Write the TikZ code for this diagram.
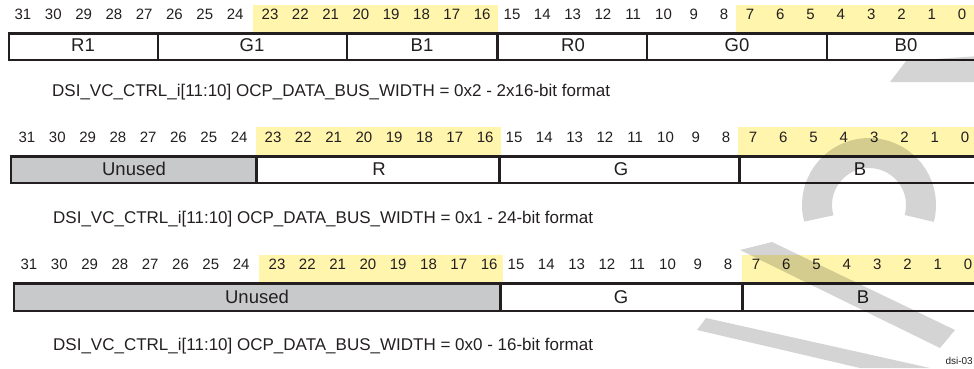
\documentclass[tikz,border=0pt]{standalone}
\usepackage{fontspec}
\setmainfont{Liberation Sans}
\definecolor{hl}{RGB}{255,245,172}
\definecolor{unusedgray}{RGB}{200,201,203}
\definecolor{ink}{RGB}{35,31,32}
\tikzset{
  num/.style={font=\fontsize{15}{15}\selectfont, text=ink, inner sep=0pt},
  fieldlabel/.style={font=\fontsize{18.5}{18.5}\selectfont, text=ink, inner sep=0pt},
  caption/.style={font=\fontsize{17}{17}\selectfont, text=ink, inner sep=0pt, anchor=west},
  topline/.style={draw=ink, line width=3pt},
  boxline/.style={draw=ink, line width=2pt},
  thindiv/.style={draw=ink, line width=1.6pt},
  thickdiv/.style={draw=ink, line width=3pt},
  hlband/.style={fill=hl, draw=none},
  unusedfill/.style={fill=unusedgray, draw=none},
  wm/.style={fill=black, fill opacity=0.17, draw=none},
  wmstroke/.style={draw=black, draw opacity=0.17, line width=30pt},
}
\begin{document}
\begin{tikzpicture}[x=1pt,y=-1pt]
\useasboundingbox (0,0) rectangle (974,368);
\clip (0,0) rectangle (974,368);

% ---------------- Row 1 ----------------
\fill[hlband] (253,5) rectangle (498,32);
\fill[hlband] (736,5) rectangle (980,32);
\foreach \gs [count=\g from 0] in {23,270,512,750} {
  \foreach \i in {0,...,7} {
    \pgfmathtruncatemacro\bit{31-8*\g-\i}
    \node[num] (a\bit) at (\gs+\i*30.3,14) {\bit};
  }
}
\fill[white] (8,33) rectangle (980,60);
\draw[thindiv] (158,33) -- (158,60);
\draw[thindiv] (347,33) -- (347,60);
\draw[thickdiv] (497,33) -- (497,60);
\draw[thindiv] (647,33) -- (647,60);
\draw[thindiv] (827,33) -- (827,60);
\draw[boxline] (9,33) -- (9,60);
\draw[boxline] (8,60) -- (980,60);
\draw[topline] (7.5,33) -- (980,33);
\node[fieldlabel] (r1) at (83,45) {R1};
\node[fieldlabel] (g1) at (252,45) {G1};
\node[fieldlabel] (b1) at (422,45) {B1};
\node[fieldlabel] (r0) at (573,45) {R0};
\node[fieldlabel] (g0) at (737,45) {G0};
\node[fieldlabel] (b0) at (906,45) {B0};
\node[caption] (c1) at (52,92) {DSI\_VC\_CTRL\_i[11:10] OCP\_DATA\_BUS\_WIDTH = 0x2 - 2x16-bit format};

% ---------------- Row 2 ----------------
\fill[hlband] (256,127) rectangle (501,155);
\fill[hlband] (738,127) rectangle (980,155);
\foreach \gs [count=\g from 0] in {27,273,514,753} {
  \foreach \i in {0,...,7} {
    \pgfmathtruncatemacro\bit{31-8*\g-\i}
    \node[num] (b\bit) at (\gs+\i*30.3,137) {\bit};
  }
}
\fill[white] (10,156) rectangle (980,183);
\fill[unusedfill] (10,156) rectangle (256,183);
\draw[thickdiv] (256,156) -- (256,183);
\draw[thickdiv] (499,156) -- (499,183);
\draw[thickdiv] (739,156) -- (739,183);
\draw[boxline] (11,156) -- (11,183);
\draw[boxline] (10,183) -- (980,183);
\draw[topline] (9.5,156) -- (980,156);
\node[fieldlabel] (u2) at (134,169) {Unused};
\node[fieldlabel] (r2) at (379,169) {R};
\node[fieldlabel] (g2) at (621,169) {G};
\node[fieldlabel] (bb2) at (860,169) {B};
\node[caption] (c2) at (53,219) {DSI\_VC\_CTRL\_i[11:10] OCP\_DATA\_BUS\_WIDTH = 0x1 - 24-bit format};

% ---------------- Row 3 ----------------
\fill[hlband] (259,255) rectangle (503,282);
\fill[hlband] (742,255) rectangle (980,282);
\foreach \gs [count=\g from 0] in {29,277,516,756} {
  \foreach \i in {0,...,7} {
    \pgfmathtruncatemacro\bit{31-8*\g-\i}
    \node[num] (c\bit) at (\gs+\i*30.3,264) {\bit};
  }
}
\fill[white] (13,283) rectangle (980,311);
\fill[unusedfill] (13,283) rectangle (500,311);
\draw[thickdiv] (500,283) -- (500,311);
\draw[thickdiv] (742,283) -- (742,311);
\draw[boxline] (14,283) -- (14,311);
\draw[boxline] (13,311) -- (980,311);
\draw[topline] (12.5,283) -- (980,283);
\node[fieldlabel] (u3) at (257,297) {Unused};
\node[fieldlabel] (g3) at (621,297) {G};
\node[fieldlabel] (bb3) at (863,297) {B};
\node[caption] (c3) at (53,346) {DSI\_VC\_CTRL\_i[11:10] OCP\_DATA\_BUS\_WIDTH = 0x0 - 16-bit format};

\node[font=\fontsize{10}{10}\selectfont, text=ink, inner sep=0pt, anchor=east] (tag) at (973,361) {dsi-03};

% ---------------- watermark (approximate) ----------------
\coordinate (arcc) at (869,205);
\draw[wmstroke] (arcc) ++(165:52) arc (165:375:52);
\fill[wm] (890,82) -- (906,61) -- (980,56) -- (980,82) -- cycle;
\fill[wm] (740,250) -- (772,242) -- (955,330) -- (940,348) -- cycle;
\fill[wm] (697,330) -- (706,318) -- (930,368) -- (860,368) -- cycle;
\end{tikzpicture}
\end{document}
